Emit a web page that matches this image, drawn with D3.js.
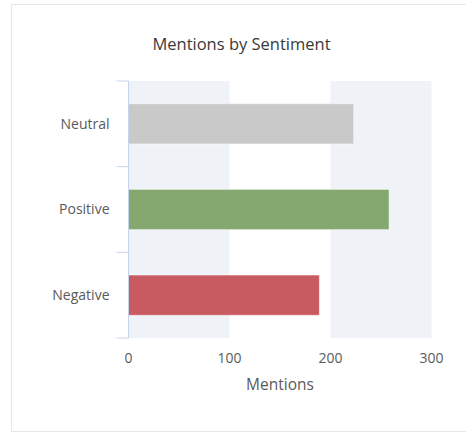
<!DOCTYPE html>
<html>
<head>
<meta charset="utf-8">
<script src="https://cdn.jsdelivr.net/npm/d3@7"></script>
<style>
  body { margin: 0; background: #fff; font-family: "Open Sans", sans-serif; }
  svg { display: block; }
</style>
</head>
<body>
<svg id="chart"></svg>
<script>
// data
var categories = ["Neutral", "Positive", "Negative"];
var mentions = [223, 258, 189];
var barColors = ["#c9c9c9", "#84a86f", "#c85b61"];
var xTicks = [0, 100, 200, 300];

var width = 466, height = 434;
var margin = { top: 81, right: 34, bottom: 96, left: 128.5 };
var innerW = width - margin.left - margin.right;
var innerH = height - margin.top - margin.bottom;

var svg = d3.select("#chart")
    .attr("width", width)
    .attr("height", height);

// card border
svg.append("rect")
    .attr("x", 11.5).attr("y", 4.5)
    .attr("width", 470).attr("height", 427)
    .attr("fill", "#fff")
    .attr("stroke", "#e6e6e6");

svg.append("text")
    .attr("x", 241.5).attr("y", 50)
    .attr("text-anchor", "middle")
    .attr("font-size", "16.5px")
    .attr("fill", "#3a3a3a")
    .text("Mentions by Sentiment");

var g = svg.append("g")
    .attr("transform", `translate(${margin.left},${margin.top})`);

var x = d3.scaleLinear()
    .domain([0, 300])
    .range([0, 303]);

var y = d3.scaleBand()
    .domain(categories)
    .range([0, innerH])
    .padding(0);

// alternating background stripes
var stripes = [[0, 100], [200, 300]];
g.selectAll(".stripe")
    .data(stripes)
    .join("rect")
    .attr("class", "stripe")
    .attr("x", d => x(d[0]))
    .attr("width", d => x(d[1]) - x(d[0]))
    .attr("y", 0)
    .attr("height", innerH)
    .attr("fill", "#eff3f8");

var barH = y.bandwidth() * 0.47;
g.selectAll(".bar")
    .data(mentions)
    .join("rect")
    .attr("class", "bar")
    .attr("x", x(0))
    .attr("y", (d, i) => y(categories[i]) + (y.bandwidth() - barH) / 2)
    .attr("width", d => x(d) - x(0))
    .attr("height", barH)
    .attr("fill", (d, i) => barColors[i])
    .attr("stroke", "#fff")
    .attr("stroke-opacity", 0.5)
    .attr("stroke-width", 1);

// y axis: line with ticks at band edges
var axisColor = "#c6d3ec";
g.append("line")
    .attr("x1", 0).attr("x2", 0)
    .attr("y1", 0).attr("y2", innerH)
    .attr("stroke", axisColor);

var edges = categories.map(c => y(c)).concat([innerH]);
g.selectAll(".ytick")
    .data(edges)
    .join("line")
    .attr("class", "ytick")
    .attr("x1", -12).attr("x2", 0)
    .attr("y1", d => d).attr("y2", d => d)
    .attr("stroke", axisColor);

g.selectAll(".ylabel")
    .data(categories)
    .join("text")
    .attr("class", "ylabel")
    .attr("x", -19)
    .attr("y", d => y(d) + y.bandwidth() / 2)
    .attr("dy", "0.35em")
    .attr("text-anchor", "end")
    .attr("font-size", "14px")
    .attr("fill", "#5a5a5a")
    .text(d => d);

// x axis labels
g.selectAll(".xlabel")
    .data(xTicks)
    .join("text")
    .attr("class", "xlabel")
    .attr("x", d => x(d))
    .attr("y", innerH + 25)
    .attr("text-anchor", "middle")
    .attr("font-size", "14px")
    .attr("fill", "#5a5a5a")
    .text(d => d);

g.append("text")
    .attr("x", x(150))
    .attr("y", innerH + 52)
    .attr("text-anchor", "middle")
    .attr("font-size", "15.5px")
    .attr("fill", "#5a5a5a")
    .text("Mentions");
</script>
</body>
</html>
